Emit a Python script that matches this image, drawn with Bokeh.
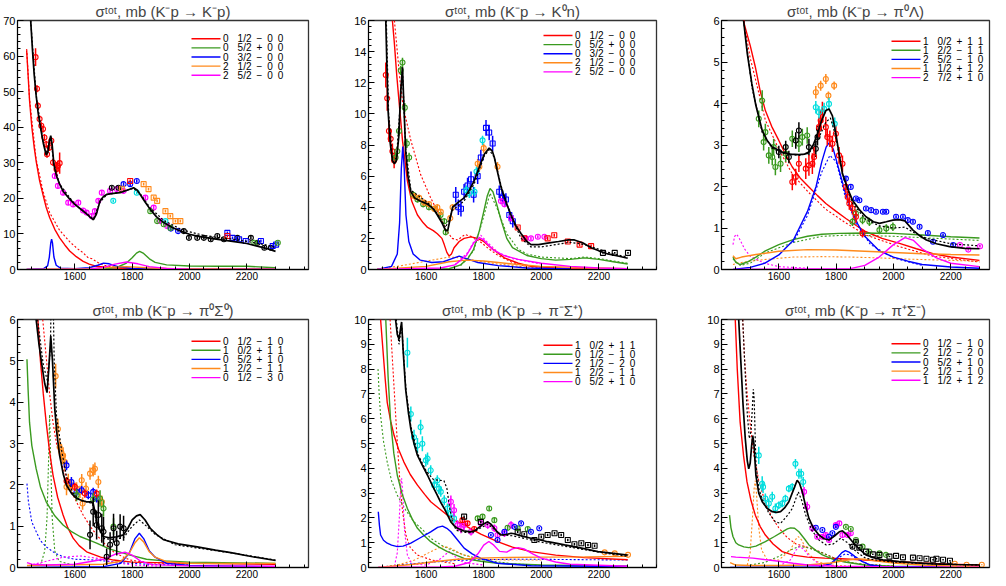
from bokeh.plotting import figure
from bokeh.layouts import gridplot
from bokeh.models import FixedTicker, Range1d, Label, BoxAnnotation
from bokeh.embed import file_html
from bokeh.resources import INLINE

FONT = "Liberation Sans"
COL = dict(red="#ff0000", green="#3a9a1f", blue="#0000ff", orange="#ff8a1c",
           magenta="#ff00ff", cyan="#00dede", black="#000000")

TITLES = ["σᵗᵒᵗ, mb (K⁻p → K⁻p)", "σᵗᵒᵗ, mb (K⁻p → K⁰n)", "σᵗᵒᵗ, mb (K⁻p → π⁰Λ)",
          "σᵗᵒᵗ, mb (K⁻p → π⁰Σ⁰)", "σᵗᵒᵗ, mb (K⁻p → π⁻Σ⁺)", "σᵗᵒᵗ, mb (K⁻p → π⁺Σ⁻)"]
X_TICKS = [1600, 1800, 2000, 2200]
Y_MAX = [70, 16, 6, 6, 10, 10]
Y_STEP = [10, 2, 1, 1, 1, 1]

P1_LABELS = ["0 1/2 − 0 0", "0 5/2 + 0 0", "0 3/2 − 0 0", "2 1/2 − 0 0", "2 5/2 − 0 0"]
P2_LABELS = ["0 1/2 − 0 0", "0 5/2 + 0 0", "0 3/2 − 0 0", "2 1/2 − 0 0", "2 5/2 − 0 0"]
P3_LABELS = ["1 0/2 + 1 1", "1 2/2 − 1 1", "2 5/2 − 1 0", "1 1/2 + 1 2", "2 7/2 + 1 0"]
P4_LABELS = ["0 1/2 − 1 0", "1 0/2 + 1 1", "0 5/2 + 1 0", "1 2/2 − 1 1", "0 1/2 − 3 0"]
P5_LABELS = ["1 0/2 + 1 1", "0 1/2 − 1 0", "2 1/2 − 2 0", "1 2/2 − 1 1", "0 5/2 + 1 0"]
P6_LABELS = ["0 1/2 − 1 0", "2 1/2 − 2 0", "0 5/2 + 1 0", "2 1/2 − 1 0", "1 1/2 + 1 2"]

# ---------------- Panel 1: K-p -> K-p ----------------
P1_TOTAL = [(1446,70),(1452,62),(1458,55),(1465,49),(1472,44),(1480,40),(1490,35.5),(1500,32.2),(1506,33),(1511,36),(1516,37.6),(1521,35),(1527,29.5),(1536,26.3),(1547,24),(1559,22),(1580,20),(1600,18.3),(1620,17),(1640,15.7),(1655,14.6),(1665,14.0),(1675,15.5),(1688,19.3),(1700,20.5),(1711,21.1),(1735,21.4),(1758,21.6),(1780,22.2),(1805,23.0),(1818,22.3),(1828,21.1),(1845,19),(1863,16.9),(1885,14.8),(1910,13.2),(1940,11.8),(1968,10.8),(2000,9.9),(2027,9.4),(2080,8.7),(2144,8.0),(2200,7.3),(2261,6.1),(2300,5.1)]
P1_TOTAL_D = [(1446,70),(1465,49),(1490,35.5),(1500,32.5),(1516,37),(1527,29.5),(1547,24),(1600,18.3),(1640,15.8),(1665,14.2),(1688,19),(1711,21),(1758,21.8),(1805,22.8),(1828,21.3),(1863,17.3),(1910,13.8),(1968,11.4),(2000,10.6),(2050,9.6),(2100,9.0),(2144,8.6),(2200,7.9),(2261,7.0),(2300,6.2)]
P1_RED = [(1432,61.5),(1436,56),(1442,47.5),(1450,40),(1458,34.5),(1465,30.5),(1477,25),(1489,21),(1500,17.5),(1512,14.6),(1530,11.3),(1547,8.9),(1565,6.9),(1582,5.2),(1605,3.6),(1629,2.3),(1650,1.5),(1676,0.9),(1720,0.5),(1800,0.3),(2000,0.2),(2300,0.1)]
P1_RED_D = [(1432,62),(1442,48),(1465,31),(1489,22),(1512,16),(1547,11),(1559,9.9),(1582,7.8),(1610,5.8),(1629,4.7),(1645,3.4),(1660,3.0),(1680,2.0),(1700,1.2),(1750,0.5),(1800,0.3)]
P1_GREEN = [(1432,0),(1700,0.1),(1750,0.7),(1780,1.8),(1800,3.3),(1815,4.6),(1826,5.1),(1840,4.5),(1860,3.0),(1880,2.0),(1920,1.3),(2000,1.0),(2100,0.9),(2200,0.9),(2300,0.5)]
P1_BLUE = [(1432,0),(1490,0.2),(1505,1),(1511,3.5),(1516,7.5),(1519,8.5),(1522,7.5),(1527,3.5),(1535,1.2),(1550,0.4),(1600,0.2),(1650,0.5),(1680,1.2),(1700,1.8),(1720,1.6),(1750,0.8),(1800,0.3),(1900,0.1),(2300,0.05)]
P1_ORANGE = [(1432,0),(1650,0.2),(1720,0.6),(1780,0.8),(1850,0.5),(1950,0.2),(2300,0.05)]
P1_MAGENTA = [(1432,0),(1650,0.1),(1700,0.6),(1740,1.5),(1780,2.1),(1820,1.6),(1860,0.8),(1920,0.3),(2000,0.1),(2300,0.02)]
P1_RED_PTS = [(1463,59.7,2.5),(1468,50.8,1),(1471,46,1),(1477,42.3,1),(1483,40.4,1),(1489,39.5,1),(1494,37.1,1),(1500,35.2,1),(1503,32.4,1),(1512,34.3,1),(1518,36.2,1),(1524,30.1,1),(1536,28.2,2),(1541,29.1,1.5),(1547,29.9,3)]
P1_MAGENTA_PTS = [(1530,26.3,0.7),(1541,23.5,0.7),(1559,21.6,0.7),(1577,18.8,0.7),(1594,18.3,0.7),(1612,18.8,0.7),(1629,16.6,0.7),(1641,16,0.7),(1659,15,0.7),(1670,16.4,0.7),(1682,19.3,0.7),(1694,21.6,0.7),(1723,22.1,0.7),(1746,22.6,0.7),(1770,22.1,0.7),(1846,20.2,0.7),(1875,17.4,0.7),(1898,13.6,0.7),(1922,12.2,0.7)]
P1_BLACK_PTS = [(1729,23,0.5),(1752,23,0.5),(1980,10.8,0.5),(1998,8.9,0.5),(2027,8.9,0.5),(2050,8.9,0.5),(2074,8.5,0.5),(2097,9.4,0.5),(2120,8.5,0.5),(2167,8.9,0.5),(2214,8.9,0.5),(2237,7.5,0.5),(2261,6.1,0.5),(2284,6.1,0.5)]
P1_BLUE_PTS = [(1770,24,0.5),(1793,24,0.5),(1816,24.9,0.5),(1935,11.5,0.4),(1960,10.8,0.4)]
P1_BLUE_SQ = [(2132,10.3,0.4),(2150,8.9,0.4),(2173,8.5,0.4),(2196,8.0,0.4),(2249,8.0,0.4),(2290,6.6,0.4),(2302,7.0,0.4)]
P1_ORANGE_SQ = [(1764,22.7,0.4),(1840,24,0.4),(1857,22.6,0.4),(1875,20.2,0.4),(1887,19.3,0.4),(1916,16.4,0.4),(1933,15,0.4),(1951,13.6,0.4),(1968,13.6,0.4)]
P1_GREEN_PTS = [(1863,16.4,0.4),(1887,13.6,0.4),(1910,12.7,0.4),(1933,11.7,0.4),(2226,7.5,0.4),(2308,7.5,0.4)]
P1_RED_SQ = [(1793,24.9,0.4),(2132,9.4,0.4)]
P1_CYAN_PTS = [(1734,19.3,0.4),(1816,21.6,0.4),(1916,13.6,0.4)]

# ---------------- Panel 2: K-p -> K0 n ----------------
P2_TOTAL = [(1460,16),(1464,13),(1468,10.2),(1475,8.2),(1483,7.0),(1490,6.8),(1497,7.0),(1505,8.5),(1512,11.5),(1518,13.0),(1522,11),(1529,7.6),(1537,6.0),(1547,5.0),(1560,4.6),(1580,4.4),(1605,4.2),(1625,3.9),(1639,3.5),(1655,3.0),(1668,2.5),(1675,2.5),(1684,3.3),(1692,4.0),(1710,4.3),(1732,4.6),(1750,5.1),(1767,5.7),(1785,6.6),(1802,7.4),(1819,7.8),(1830,7.6),(1837,7.2),(1850,6.1),(1860,5.3),(1878,4.3),(1895,3.5),(1912,2.8),(1930,2.3),(1950,1.8),(1964,1.6),(1990,1.6),(2022,1.7),(2060,1.8),(2095,1.9),(2115,1.9),(2145,1.7),(2173,1.4),(2200,1.2),(2231,1.0),(2270,0.85),(2300,0.72)]
P2_TOTAL_D = [(1462,16),(1470,10),(1483,7.2),(1497,7.1),(1518,12.8),(1529,7.8),(1547,5.1),(1605,4.3),(1639,3.6),(1668,2.7),(1692,3.8),(1732,4.4),(1767,5.5),(1802,7.3),(1819,7.7),(1837,7.2),(1860,5.4),(1895,3.4),(1930,2.0),(1964,1.45),(2000,1.45),(2050,1.6),(2100,1.75),(2150,1.6),(2200,1.3),(2250,1.0),(2300,0.8)]
P2_RED = [(1483,16),(1490,14.5),(1498,12.5),(1506,10.8),(1518,8.3),(1535,5.7),(1550,4.4),(1570,3.5),(1590,3.0),(1605,2.7),(1625,2.5),(1639,2.3),(1655,2.0),(1663,1.6),(1672,1.1),(1680,0.86),(1688,1.0),(1697,1.4),(1715,1.8),(1732,2.0),(1756,2.1),(1779,2.0),(1800,1.8),(1825,1.4),(1850,1.05),(1872,0.75),(1920,0.4),(1964,0.2),(2100,0.05),(2300,0.02)]
P2_RED_D = [(1490,16),(1500,14),(1510,12),(1520,10.5),(1547,8.3),(1581,6.1),(1616,4.6),(1651,3.3),(1668,2.6),(1690,2.0),(1710,1.9),(1735,2.25),(1760,2.1),(1790,1.75),(1820,1.3),(1850,0.9),(1900,0.45),(1950,0.2)]
P2_GREEN = [(1430,0),(1680,0.05),(1720,0.3),(1745,0.7),(1765,1.3),(1785,2.5),(1800,3.7),(1812,4.7),(1822,5.2),(1832,5.0),(1845,4.2),(1860,3.2),(1880,2.0),(1900,1.4),(1950,0.9),(2000,0.7),(2050,0.6),(2100,0.65),(2150,0.75),(2200,0.65),(2250,0.5),(2300,0.35)]
P2_GREEN_D = [(1720,0.25),(1765,1.2),(1800,3.4),(1822,4.9),(1845,4.0),(1880,2.3),(1920,1.3),(1950,1.0),(2000,0.8),(2100,0.7),(2150,0.8),(2200,0.7),(2300,0.4)]
P2_BLUE = [(1430,0),(1480,0.2),(1500,1.0),(1508,3),(1514,6.5),(1519,7.9),(1524,6.5),(1530,3.5),(1540,1.8),(1555,1.0),(1580,0.6),(1620,0.45),(1660,0.5),(1690,0.7),(1715,0.86),(1740,0.7),(1780,0.45),(1850,0.25),(1950,0.1),(2100,0.03)]
P2_ORANGE = [(1430,0),(1600,0.2),(1680,0.5),(1740,0.6),(1800,0.55),(1900,0.35),(2000,0.2),(2300,0.05)]
P2_ORANGE_D = [(1430,0.05),(1500,0.2),(1560,0.4),(1620,0.6),(1680,0.8),(1720,0.75),(1780,0.55),(1850,0.35),(1950,0.15),(2100,0.05)]
P2_MAGENTA = [(1430,0),(1650,0.1),(1700,0.3),(1740,0.9),(1765,1.7),(1785,2.05),(1800,1.9),(1830,1.3),(1870,0.9),(1920,0.65),(2000,0.4),(2100,0.2),(2200,0.1),(2300,0.05)]
P2_MAGENTA_D = [(1700,0.3),(1745,1.1),(1775,2.1),(1790,2.2),(1810,1.8),(1850,1.1),(1900,0.7),(2000,0.35)]
P2_RED_PTS = [(1460,12.5,0.8),(1465,11,0.8),(1471,8.9,0.7),(1477,8.4,0.6),(1483,7.6,0.5),(1489,7.0,0.5)]
P2_GREEN_PTS = [(1494,7.2,0.3),(1500,7.6,0.3),(1506,8.9,0.3),(1512,12.8,0.3),(1518,13.3,0.3),(1526,10.4,0.3),(1533,8.1,0.3),(1541,7.2,0.3),(1555,4.8,0.2),(1570,4.5,0.2),(1590,4.2,0.2),(1610,4.0,0.2),(1630,3.9,0.2),(1650,3.5,0.2),(1663,3.1,0.2),(1668,2.4,0.2)]
P2_ORANGE_PTS = [(1560,4.7,0.2),(1576,4.6,0.2),(1593,4.3,0.2),(1610,4.2,0.2),(1628,3.9,0.2),(1639,4.0,0.2),(1651,3.7,0.2),(1684,3.3,0.2),(1692,4.0,0.2),(1779,6.8,0.3),(1785,6.6,0.3),(1800,7.8,0.3),(1848,6.6,0.3),(1866,4.6,0.3)]
P2_BLUE_SQ = [(1703,4.8,0.5),(1712,4.0,0.5),(1721,3.9,0.5),(1732,5.0,0.5),(1744,5.4,0.5),(1756,5.8,0.5),(1765,4.8,0.5),(1779,6.0,0.5),(1790,7.2,0.5),(1808,9.1,0.5),(1819,8.8,0.5),(1831,8.1,0.5),(1854,5.0,0.4),(1866,4.6,0.4),(1877,4.5,0.4),(1889,3.5,0.4),(1901,3.1,0.4)]
P2_CYAN_PTS = [(1740,5.1,0.3),(1750,4.9,0.3),(1768,5.0,0.3),(1775,6.3,0.3),(1796,8.3,0.3)]
P2_MAGENTA_PTS = [(1860,4.4,0.2),(1872,4.2,0.2),(1895,3.3,0.2),(1945,2.0,0.1),(1964,2.0,0.1),(1988,2.1,0.1),(2011,2.1,0.1)]
P2_RED_SQ = [(1918,2.7,0.1),(1941,2.0,0.1),(2022,2.0,0.1),(2045,2.2,0.1),(2092,1.8,0.1),(2133,1.6,0.1),(2173,1.5,0.1)]
P2_BLACK_SQ = [(2214,1.07,0.05),(2255,1.07,0.05),(2301,1.07,0.05)]

# ---------------- Panel 3: K-p -> pi0 Lambda ----------------
P3_TOTAL = [(1477,6),(1490,5.2),(1506,4.47),(1520,3.95),(1542,3.35),(1560,3.1),(1577,2.95),(1612,2.83),(1640,2.78),(1670,2.77),(1690,2.78),(1705,2.83),(1720,3.0),(1735,3.27),(1750,3.6),(1764,3.83),(1775,3.87),(1787,3.7),(1799,3.27),(1810,2.8),(1822,2.31),(1840,1.95),(1857,1.67),(1880,1.45),(1904,1.27),(1930,1.15),(1951,1.11),(1975,1.15),(1998,1.19),(2020,1.2),(2040,1.17),(2068,0.95),(2090,0.82),(2115,0.71),(2150,0.62),(2196,0.55),(2250,0.51),(2300,0.5)]
P3_TOTAL_D = [(1477,6),(1506,4.4),(1542,3.3),(1577,2.92),(1612,2.8),(1670,2.75),(1705,2.8),(1735,3.1),(1764,3.55),(1780,3.65),(1799,3.2),(1822,2.3),(1857,1.6),(1904,1.2),(1951,1.05),(2000,1.0),(2040,1.02),(2068,0.9),(2115,0.75),(2200,0.62),(2300,0.57)]
P3_RED = [(1470,6.5),(1480,5.9),(1500,5.4),(1518,4.88),(1535,4.3),(1553,3.83),(1575,3.45),(1600,3.11),(1625,2.75),(1647,2.47),(1675,2.2),(1705,1.99),(1735,1.78),(1764,1.59),(1800,1.4),(1834,1.23),(1870,1.06),(1904,0.91),(1960,0.75),(2021,0.63),(2080,0.5),(2138,0.38),(2200,0.3),(2300,0.22)]
P3_RED_D = [(1470,6.3),(1500,5.1),(1518,4.6),(1553,3.6),(1600,2.9),(1647,2.3),(1705,1.85),(1764,1.45),(1834,1.12),(1904,0.83),(2021,0.55),(2138,0.32),(2300,0.18)]
P3_GREEN = [(1440,0.3),(1450,0.17),(1465,0.12),(1490,0.18),(1520,0.3),(1553,0.45),(1600,0.6),(1650,0.72),(1700,0.8),(1750,0.85),(1810,0.87),(1900,0.88),(2000,0.87),(2100,0.83),(2200,0.79),(2300,0.76)]
P3_GREEN_D = [(1440,0.25),(1465,0.1),(1500,0.15),(1553,0.4),(1650,0.65),(1750,0.8),(1850,0.83),(2000,0.8),(2150,0.75),(2300,0.7)]
P3_BLUE = [(1440,0),(1500,0.05),(1550,0.15),(1600,0.35),(1650,0.7),(1700,1.4),(1730,2.0),(1750,2.6),(1765,2.95),(1775,3.05),(1790,2.9),(1810,2.4),(1830,1.9),(1850,1.5),(1875,1.1),(1900,0.8),(1950,0.45),(2000,0.3),(2050,0.2),(2100,0.12),(2200,0.06),(2300,0.03)]
P3_BLUE_D = [(1650,0.65),(1700,1.3),(1750,2.35),(1778,2.75),(1800,2.6),(1830,1.8),(1870,1.1),(1920,0.6),(2000,0.28),(2100,0.1)]
P3_ORANGE = [(1440,0.33),(1450,0.26),(1470,0.3),(1520,0.36),(1600,0.44),(1700,0.48),(1800,0.47),(1900,0.44),(2000,0.41),(2100,0.38),(2200,0.36),(2300,0.35)]
P3_ORANGE_D = [(1440,0.12),(1470,0.17),(1550,0.24),(1650,0.3),(1750,0.31),(1850,0.3),(1950,0.28),(2050,0.25),(2150,0.23),(2300,0.2)]
P3_MAGENTA = [(1440,0),(1850,0.02),(1900,0.1),(1950,0.3),(2000,0.6),(2040,0.77),(2070,0.7),(2100,0.5),(2150,0.28),(2200,0.15),(2300,0.07)]
P3_MAGENTA_D = [(1440,0.6),(1446,0.8),(1452,0.85),(1460,0.78),(1480,0.5),(1500,0.32),(1550,0.15),(1600,0.07),(1700,0.03)]
P3_GREEN_PTS = [(1530,3.63,0.2),(1542,4.07,0.25),(1547,3.07,0.2),(1553,3.31,0.2),(1565,2.75,0.2),(1577,2.71,0.2),(1582,2.95,0.2),(1588,2.47,0.2),(1606,2.55,0.2),(1624,2.79,0.2),(1647,3.15,0.2),(1670,3.03,0.2),(1682,3.19,0.2),(1699,3.23,0.2),(1857,1.15,0.1),(1869,1.35,0.1),(1892,1.19,0.1),(1916,1.15,0.1),(1951,0.95,0.1),(1975,0.99,0.1),(1998,1.03,0.1)]
P3_BLACK_PTS = [(1600,2.83,0.15),(1624,2.95,0.15),(1635,2.71,0.15),(1659,3.11,0.2),(1670,3.35,0.2),(1705,2.95,0.2),(1729,2.91,0.2),(1735,3.19,0.2),(1740,3.39,0.2)]
P3_RED_PTS = [(1647,2.11,0.2),(1659,2.23,0.2),(1670,2.55,0.2),(1694,2.43,0.25),(1705,2.51,0.25),(1717,2.55,0.25),(1723,2.71,0.25),(1740,3.43,0.25),(1746,3.59,0.25),(1752,3.79,0.25),(1764,3.43,0.25),(1769,3.19,0.2),(1778,3.15,0.2),(1787,3.03,0.2),(1799,3.27,0.2),(1810,2.75,0.2),(1822,2.55,0.2),(1834,1.99,0.15),(1840,1.75,0.15),(1846,1.59,0.15),(1857,1.47,0.15),(1869,1.27,0.15),(1892,0.87,0.1)]
P3_ORANGE_PTS = [(1729,4.27,0.15),(1746,4.43,0.12),(1764,4.59,0.12),(1773,4.19,0.1),(1793,4.43,0.1)]
P3_CYAN_PTS = [(1729,3.91,0.15),(1740,3.79,0.15),(1758,3.87,0.15),(1775,3.99,0.15),(1795,3.51,0.15)]
P3_BLUE_PTS = [(1834,2.19,0.04),(1851,1.99,0.04),(1869,1.71,0.04),(1881,1.67,0.04),(1904,1.47,0.04),(1922,1.43,0.04),(1939,1.39,0.04),(1963,1.39,0.04),(1975,1.39,0.04),(2009,1.27,0.04),(2033,1.27,0.04),(2050,1.19,0.04),(2068,1.15,0.04),(2091,1.03,0.04),(2120,0.88,0.04),(2138,0.67,0.04),(2173,0.83,0.04),(2208,0.59,0.04)]
P3_MAGENTA_PTS = [(2232,0.59,0.03),(2261,0.48,0.03),(2302,0.56,0.03)]

# ---------------- Panel 4: K-p -> pi0 Sigma0 ----------------
P4_TOTAL = [(1465,6),(1475,5.4),(1485,4.9),(1495,4.45),(1503,4.23),(1509,4.8),(1516,5.6),(1522,5.0),(1530,3.83),(1538,3.2),(1547,2.71),(1560,2.25),(1571,1.99),(1590,1.78),(1606,1.67),(1625,1.62),(1641,1.59),(1655,1.59),(1664,1.55),(1670,1.35),(1676,1.11),(1688,0.9),(1699,0.75),(1720,0.72),(1745,0.74),(1770,0.79),(1785,0.95),(1800,1.15),(1815,1.25),(1828,1.28),(1845,1.15),(1863,0.95),(1885,0.8),(1910,0.67),(1960,0.57),(2027,0.5),(2090,0.42),(2144,0.36),(2220,0.26),(2300,0.17)]
P4_TOTAL_D = [(1470,6),(1490,4.9),(1505,4.5),(1515,5.3),(1518,7),(1522,7.5),(1528,5.0),(1536,3.67),(1553,2.87),(1571,2.2),(1594,1.8),(1620,1.62),(1650,1.58),(1664,1.5),(1676,1.05),(1699,0.7),(1735,0.68),(1770,0.72),(1800,1.0),(1825,1.15),(1850,1.0),(1880,0.8),(1950,0.55),(2050,0.45),(2150,0.35),(2300,0.18)]
P4_RED = [(1471,6),(1480,5.0),(1490,4.2),(1500,3.51),(1512,2.8),(1524,2.23),(1540,1.7),(1559,1.27),(1575,0.97),(1594,0.71),(1615,0.53),(1641,0.38),(1690,0.25),(1735,0.18),(1800,0.13),(2000,0.1),(2300,0.08)]
P4_RED_D = [(1488,6),(1500,5.1),(1512,4.2),(1524,3.5),(1536,3.0),(1559,2.4),(1577,2.05),(1594,1.75),(1612,1.5),(1629,1.27),(1653,1.0),(1676,0.79),(1700,0.6),(1735,0.38),(1770,0.25),(1793,0.18),(1850,0.12),(2000,0.08)]
P4_GREEN = [(1433,5.04),(1437,4.3),(1442,3.51),(1450,2.95),(1465,2.39),(1480,1.95),(1500,1.59),(1530,1.25),(1559,1.03),(1590,0.86),(1618,0.75),(1650,0.66),(1676,0.59),(1720,0.45),(1793,0.3),(1850,0.2),(1910,0.16),(2000,0.13),(2300,0.1)]
P4_GREEN_D = [(1480,0.05),(1495,0.4),(1503,1.2),(1508,2.5),(1512,3.7),(1516,2.5),(1521,1.2),(1530,0.4),(1545,0.15),(1600,0.05)]
P4_BLUE = [(1433,0),(1700,0.02),(1760,0.1),(1790,0.35),(1810,0.7),(1825,0.83),(1840,0.7),(1860,0.4),(1880,0.25),(1920,0.1),(2000,0.05),(2300,0.02)]
P4_BLUE_D = [(1433,2.03),(1438,1.6),(1442,1.43),(1450,1.1),(1465,0.87),(1480,0.65),(1500,0.5),(1530,0.35),(1559,0.26),(1600,0.2),(1676,0.18),(1750,0.12),(1850,0.08),(2000,0.05)]
P4_ORANGE = [(1433,0.05),(1700,0.08),(1760,0.15),(1790,0.35),(1810,0.6),(1825,0.72),(1840,0.62),(1860,0.38),(1880,0.25),(1920,0.14),(2000,0.1),(2300,0.1)]
P4_MAGENTA = [(1433,0.12),(1450,0.08),(1500,0.06),(1600,0.08),(1700,0.2),(1740,0.32),(1775,0.37),(1800,0.3),(1830,0.15),(1870,0.07),(2000,0.04),(2300,0.03)]
P4_MAGENTA_D = [(1440,0.05),(1500,0.15),(1560,0.25),(1620,0.28),(1680,0.22),(1740,0.12),(1800,0.06),(1900,0.03)]
P4_ORANGE_PTS = [(1533,4.63,0.3),(1541,3.35,0.25),(1547,2.91,0.2),(1553,2.79,0.2),(1559,2.71,0.2),(1565,2.55,0.2),(1571,1.95,0.2),(1577,2.07,0.2),(1588,1.99,0.15),(1606,1.91,0.15),(1618,1.83,0.15),(1624,2.11,0.15),(1627,1.55,0.15),(1639,1.91,0.15),(1653,2.27,0.15),(1664,2.35,0.15),(1670,2.39,0.15),(1682,2.07,0.15),(1694,1.59,0.15)]
P4_BLUE_PTS = [(1571,2.47,0.12),(1588,2.07,0.12),(1606,1.83,0.1),(1624,1.87,0.1),(1647,1.75,0.1),(1664,1.83,0.1),(1676,1.67,0.1)]
P4_RED_PTS = [(1571,2.09,0.1),(1600,1.95,0.1),(1635,1.79,0.1),(1676,1.79,0.1)]
P4_GREEN_PTS = [(1606,1.75,0.15),(1664,1.65,0.15),(1688,1.67,0.2),(1700,1.43,0.2),(1735,0.99,0.2)]
P4_BLACK_PTS = [(1653,0.79,0.35),(1664,1.35,0.35),(1676,1.03,0.35),(1682,1.27,0.35),(1694,0.95,0.35),(1700,0.87,0.35),(1711,0.26,0.2),(1723,0.55,0.3),(1735,0.95,0.35),(1746,0.59,0.3),(1758,0.99,0.3),(1770,0.95,0.3)]

# ---------------- Panel 5: K-p -> pi- Sigma+ ----------------
P5_TOTAL = [(1490,10.5),(1494,10),(1500,9.4),(1506,9.2),(1511,9.6),(1515,9.9),(1520,8.8),(1529,7.19),(1538,6.3),(1547,5.59),(1558,5.0),(1570,4.52),(1588,4.1),(1605,3.72),(1622,3.3),(1639,2.91),(1652,2.6),(1663,2.38),(1675,2.1),(1686,1.84),(1698,1.68),(1709,1.58),(1730,1.48),(1756,1.44),(1768,1.48),(1779,1.58),(1795,1.72),(1814,1.84),(1825,1.75),(1837,1.58),(1848,1.42),(1860,1.31),(1878,1.33),(1895,1.38),(1906,1.36),(1918,1.31),(1940,1.25),(1964,1.18),(2000,1.1),(2022,1.04),(2050,0.98),(2081,0.91),(2140,0.78),(2197,0.64),(2250,0.57),(2300,0.5)]
P5_TOTAL_D = [(1492,10.5),(1500,9.6),(1506,9.0),(1512,9.5),(1516,9.7),(1522,8.5),(1530,7.2),(1547,5.7),(1570,4.6),(1600,3.9),(1625,3.55),(1645,3.52),(1662,3.5),(1672,3.2),(1682,2.4),(1692,1.8),(1705,1.5),(1730,1.42),(1760,1.4),(1790,1.6),(1815,1.75),(1840,1.5),(1860,1.32),(1900,1.28),(1950,1.15),(2000,1.02),(2100,0.82),(2200,0.62),(2300,0.45)]
P5_RED = [(1442,10),(1450,8.8),(1458,7.6),(1465,6.66),(1477,5.9),(1489,5.32),(1505,4.75),(1523,4.25),(1545,3.75),(1570,3.32),(1595,2.95),(1616,2.65),(1645,2.38),(1674,2.11),(1700,1.9),(1732,1.71),(1790,1.35),(1848,1.04),(1900,0.82),(1964,0.64),(2050,0.5),(2150,0.4),(2300,0.31)]
P5_RED_D = [(1475,10),(1485,8),(1495,6),(1503,4.5),(1510,3.3),(1518,2.3),(1530,1.3),(1545,0.8),(1570,0.5),(1620,0.3),(1700,0.15)]
P5_GREEN = [(1460,10),(1468,7.7),(1477,5.86),(1488,4.6),(1500,3.72),(1517,2.95),(1535,2.38),(1552,1.95),(1570,1.58),(1592,1.3),(1616,1.04),(1645,0.82),(1674,0.64),(1732,0.37),(1790,0.25),(1848,0.17),(2000,0.1),(2300,0.05)]
P5_GREEN_D = [(1433,8.0),(1437,7.0),(1442,6.12),(1452,5.1),(1465,4.25),(1480,3.5),(1500,2.91),(1530,2.3),(1558,1.84),(1590,1.5),(1616,1.18),(1660,0.85),(1732,0.5),(1800,0.3),(1900,0.15),(2000,0.08)]
P5_BLUE = [(1434,2.25),(1438,1.7),(1442,1.31),(1452,1.1),(1465,0.98),(1480,0.9),(1500,0.84),(1520,0.86),(1547,0.98),(1580,1.2),(1616,1.44),(1640,1.62),(1657,1.67),(1672,1.58),(1686,1.44),(1710,1.1),(1732,0.78),(1760,0.55),(1790,0.37),(1848,0.17),(1964,0.07),(2300,0.04)]
P5_BLUE_D = [(1433,0),(1500,0.1),(1600,0.2),(1700,0.28),(1800,0.32),(1900,0.33),(2000,0.33),(2300,0.3)]
P5_ORANGE = [(1433,0),(1480,0.05),(1550,0.12),(1620,0.22),(1700,0.32),(1780,0.38),(1850,0.4),(2000,0.42),(2150,0.43),(2300,0.45)]
P5_ORANGE_D = [(1433,0),(1500,0.1),(1560,0.3),(1610,0.6),(1645,0.8),(1665,0.85),(1690,0.75),(1720,0.55),(1760,0.4),(1800,0.33),(1900,0.3),(2000,0.3)]
P5_MAGENTA = [(1433,0),(1650,0.02),(1700,0.05),(1750,0.2),(1780,0.55),(1800,0.9),(1818,1.05),(1835,0.9),(1855,0.65),(1880,0.62),(1900,0.75),(1920,0.8),(1940,0.75),(1970,0.55),(2000,0.38),(2050,0.22),(2100,0.13),(2300,0.05)]
P5_MAGENTA_D = [(1490,0.05),(1500,0.6),(1507,2.0),(1512,3.3),(1515,3.6),(1519,3.0),(1525,1.5),(1535,0.5),(1550,0.15),(1600,0.1),(1650,0.35),(1680,0.65),(1700,0.45),(1730,0.2),(1800,0.1)]
P5_CYAN_PTS = [(1535,8.66,0.6),(1547,6.19,0.3),(1558,5.25,0.3),(1570,4.92,0.3),(1581,5.66,0.3),(1587,4.99,0.3),(1599,4.32,0.25),(1605,4.39,0.25),(1616,3.92,0.2),(1628,3.32,0.2),(1639,3.52,0.2),(1645,3.18,0.2),(1651,3.05,0.2),(1663,2.71,0.2),(1674,2.38,0.2),(1686,2.18,0.2),(1697,1.98,0.2)]
P5_MAGENTA_PTS = [(1686,2.65,0.25),(1697,2.31,0.25),(1709,1.71,0.2),(1721,1.58,0.2),(1732,1.71,0.2),(1756,1.44,0.15),(1790,1.78,0.15),(1814,1.71,0.15),(1837,1.58,0.15),(1848,1.31,0.15),(1872,1.38,0.15),(1895,1.71,0.15)]
P5_RED_PTS = [(1726,1.91,0.1),(1744,1.78,0.1),(1767,1.55,0.1)]
P5_GREEN_PTS = [(1779,1.98,0.1),(1796,2.05,0.1),(1819,2.38,0.1),(1837,1.91,0.1),(1883,1.6,0.1),(1918,1.58,0.1),(1953,1.55,0.1)]
P5_BLUE_PTS = [(1825,1.31,0.05),(1848,1.11,0.05),(1872,1.44,0.05),(1907,1.64,0.05),(1930,1.78,0.05),(1964,1.44,0.05),(1993,1.58,0.05)]
P5_BLACK_SQ = [(1732,2.05,0.05),(1790,1.84,0.05),(1918,1.44,0.05),(1941,1.34,0.05),(1976,1.11,0.05),(2000,1.24,0.05),(2022,1.31,0.05),(2046,1.38,0.05),(2069,1.31,0.05),(2092,1.11,0.05),(2115,0.94,0.05),(2139,0.98,0.05),(2162,0.91,0.05),(2185,0.88,0.05)]
P5_ORANGE_PTS = [(2220,0.61,0.03),(2255,0.57,0.03),(2301,0.51,0.03)]

# ---------------- Panel 6: K-p -> pi+ Sigma- ----------------
P6_TOTAL = [(1460,10),(1468,8.2),(1475,6.6),(1483,5.19),(1490,4.3),(1495,3.98),(1500,4.2),(1505,4.9),(1509,5.32),(1513,5.0),(1520,3.72),(1530,3.0),(1542,2.65),(1560,2.38),(1577,2.25),(1592,2.22),(1606,2.25),(1620,2.4),(1635,2.65),(1650,3.1),(1664,3.52),(1672,3.4),(1682,3.05),(1693,2.5),(1705,1.98),(1720,1.6),(1740,1.31),(1758,1.16),(1775,1.11),(1795,1.28),(1811,1.44),(1822,1.48),(1835,1.35),(1857,1.04),(1880,0.75),(1904,0.51),(1930,0.4),(1963,0.31),(2021,0.24),(2080,0.19),(2138,0.15),(2220,0.12),(2300,0.1)]
P6_TOTAL_D = [(1474,10),(1482,8),(1490,6.2),(1497,5.2),(1503,5.5),(1508,6.5),(1511,7.19),(1514,6.8),(1520,4.2),(1530,3.2),(1542,2.75),(1565,2.2),(1588,1.84),(1606,1.78),(1630,2.1),(1647,2.38),(1668,3.05),(1680,2.7),(1694,2.11),(1715,1.5),(1740,1.11),(1765,0.91),(1790,0.95),(1816,1.18),(1840,1.0),(1857,0.78),(1880,0.55),(1904,0.37),(1950,0.28),(2000,0.22),(2100,0.16),(2300,0.1)]
P6_RED = [(1448,10),(1455,8),(1465,5.86),(1477,4.5),(1489,3.45),(1503,2.7),(1518,2.11),(1535,1.65),(1553,1.31),(1580,0.95),(1612,0.64),(1650,0.5),(1700,0.42),(1760,0.38),(1800,0.36),(1850,0.33),(1900,0.3),(2000,0.24),(2100,0.18),(2200,0.13),(2300,0.1)]
P6_RED_D = [(1474,10),(1480,8.5),(1488,7.2),(1500,5.8),(1512,4.6),(1530,3.5),(1553,2.6),(1577,2.0),(1600,1.6),(1630,1.2),(1660,0.95),(1690,0.85),(1720,0.75),(1760,0.55),(1800,0.35),(1850,0.2),(1900,0.12),(2000,0.06)]
P6_GREEN = [(1428,2.11),(1433,1.6),(1440,1.25),(1450,1.0),(1460,0.91),(1478,0.83),(1495,0.8),(1520,0.86),(1553,1.04),(1585,1.25),(1612,1.44),(1630,1.56),(1641,1.6),(1655,1.58),(1670,1.44),(1690,1.15),(1705,0.91),(1730,0.68),(1752,0.51),(1790,0.33),(1830,0.22),(1900,0.1),(2000,0.05),(2300,0.02)]
P6_GREEN_D = [(1500,0.1),(1550,0.2),(1600,0.45),(1640,0.7),(1670,0.85),(1700,0.8),(1750,0.6),(1800,0.35),(1850,0.2),(1900,0.12),(2000,0.05)]
P6_BLUE = [(1430,0),(1740,0.02),(1780,0.15),(1805,0.4),(1820,0.6),(1832,0.68),(1845,0.62),(1865,0.45),(1890,0.25),(1920,0.1),(1960,0.04),(2300,0.01)]
P6_BLUE_D = [(1780,0.12),(1810,0.4),(1832,0.55),(1850,0.5),(1880,0.3),(1920,0.1)]
P6_ORANGE = [(1430,0.2),(1450,0.1),(1500,0.08),(1600,0.08),(1700,0.1),(1780,0.18),(1830,0.28),(1870,0.35),(1900,0.33),(1950,0.25),(2000,0.18),(2100,0.1),(2200,0.06),(2300,0.04)]
P6_ORANGE_D = [(1490,0.1),(1500,0.6),(1508,2.0),(1514,3.2),(1518,3.5),(1522,3.0),(1530,1.6),(1540,0.7),(1560,0.3),(1600,0.3),(1640,0.7),(1660,1.15),(1668,1.25),(1680,1.1),(1700,0.6),(1730,0.25),(1780,0.1),(1850,0.05)]
P6_MAGENTA = [(1433,0.44),(1450,0.42),(1480,0.4),(1510,0.38),(1550,0.32),(1600,0.25),(1650,0.17),(1700,0.1),(1800,0.05),(2000,0.02),(2300,0.01)]
P6_MAGENTA_D = [(1600,0.05),(1640,0.3),(1660,0.7),(1672,0.85),(1685,0.75),(1710,0.4),(1740,0.15),(1800,0.05)]
P6_CYAN_PTS = [(1530,4.52,0.35),(1542,3.38,0.3),(1545,3.25,0.25),(1553,2.78,0.2),(1565,2.58,0.2),(1577,2.85,0.2),(1588,2.38,0.2),(1600,2.51,0.15),(1612,2.58,0.15),(1623,2.78,0.15),(1635,3.18,0.15),(1647,3.25,0.15),(1658,4.18,0.2),(1670,3.78,0.2),(1678,3.78,0.2),(1685,3.45,0.2)]
P6_MAGENTA_PTS = [(1688,3.05,0.2),(1699,2.45,0.2),(1717,1.58,0.15),(1734,1.24,0.1),(1752,1.24,0.1),(1764,1.31,0.1),(1775,1.11,0.1),(1799,1.71,0.1),(1811,1.78,0.1),(1822,1.31,0.1),(1840,1.31,0.1),(1851,1.38,0.1)]
P6_BLUE_PTS = [(1729,1.6,0.05),(1752,1.51,0.05),(1775,1.24,0.05),(1787,1.38,0.05),(1799,1.64,0.05)]
P6_GREEN_PTS = [(1834,1.64,0.05),(1851,1.55,0.05),(1869,1.11,0.05),(1892,0.84,0.05),(1916,0.64,0.05),(1951,0.57,0.05),(1974,0.51,0.05)]
P6_BLACK_SQ = [(1881,0.8,0.03),(1904,0.64,0.03),(1928,0.53,0.03),(1951,0.51,0.03),(1986,0.44,0.03),(2009,0.47,0.03),(2033,0.41,0.03),(2068,0.4,0.03),(2091,0.37,0.03),(2115,0.35,0.03),(2138,0.31,0.03),(2150,0.35,0.03),(2173,0.31,0.03),(2197,0.27,0.03)]
P6_BLACK_PTS = [(1857,0.84,0.05),(1869,1.04,0.05)]
P6_ORANGE_PTS = [(2214,0.15,0.02),(2255,0.11,0.02),(2308,0.11,0.02)]

# ---------------- assemble panels ----------------
LEG_COLORS = ["red", "green", "blue", "orange", "magenta"]
PANELS = [
    dict(labels=P1_LABELS,
         comps=[P1_RED, P1_GREEN, P1_BLUE, P1_ORANGE, P1_MAGENTA],
         dotted=[(P1_RED_D, "red")],
         totals=(P1_TOTAL, P1_TOTAL_D),
         points=[(P1_RED_PTS, "red", "circle"), (P1_MAGENTA_PTS, "magenta", "circle"), (P1_BLACK_PTS, "black", "circle"),
                 (P1_BLUE_PTS, "blue", "circle"), (P1_BLUE_SQ, "blue", "square"), (P1_ORANGE_SQ, "orange", "square"),
                 (P1_GREEN_PTS, "green", "circle"), (P1_RED_SQ, "red", "square"), (P1_CYAN_PTS, "cyan", "circle")]),
    dict(labels=P2_LABELS,
         comps=[P2_RED, P2_GREEN, P2_BLUE, P2_ORANGE, P2_MAGENTA],
         dotted=[(P2_RED_D, "red"), (P2_GREEN_D, "green"), (P2_ORANGE_D, "orange"), (P2_MAGENTA_D, "magenta")],
         totals=(P2_TOTAL, P2_TOTAL_D),
         points=[(P2_RED_PTS, "red", "circle"), (P2_GREEN_PTS, "green", "circle"), (P2_ORANGE_PTS, "orange", "circle"),
                 (P2_BLUE_SQ, "blue", "square"), (P2_CYAN_PTS, "cyan", "circle"), (P2_MAGENTA_PTS, "magenta", "circle"),
                 (P2_RED_SQ, "red", "square"), (P2_BLACK_SQ, "black", "square")]),
    dict(labels=P3_LABELS,
         comps=[P3_RED, P3_GREEN, P3_BLUE, P3_ORANGE, P3_MAGENTA],
         dotted=[(P3_RED_D, "red"), (P3_GREEN_D, "green"), (P3_BLUE_D, "blue"), (P3_ORANGE_D, "orange"), (P3_MAGENTA_D, "magenta")],
         totals=(P3_TOTAL, P3_TOTAL_D),
         points=[(P3_GREEN_PTS, "green", "circle"), (P3_BLACK_PTS, "black", "circle"), (P3_RED_PTS, "red", "circle"),
                 (P3_ORANGE_PTS, "orange", "circle"), (P3_CYAN_PTS, "cyan", "circle"), (P3_BLUE_PTS, "blue", "circle"),
                 (P3_MAGENTA_PTS, "magenta", "circle")]),
    dict(labels=P4_LABELS,
         comps=[P4_RED, P4_GREEN, P4_BLUE, P4_ORANGE, P4_MAGENTA],
         dotted=[(P4_RED_D, "red"), (P4_GREEN_D, "green"), (P4_BLUE_D, "blue"), (P4_MAGENTA_D, "magenta")],
         totals=(P4_TOTAL, P4_TOTAL_D),
         points=[(P4_ORANGE_PTS, "orange", "circle"), (P4_BLUE_PTS, "blue", "circle"), (P4_RED_PTS, "red", "circle"),
                 (P4_GREEN_PTS, "green", "circle"), (P4_BLACK_PTS, "black", "circle")]),
    dict(labels=P5_LABELS,
         comps=[P5_RED, P5_GREEN, P5_BLUE, P5_ORANGE, P5_MAGENTA],
         dotted=[(P5_RED_D, "red"), (P5_GREEN_D, "green"), (P5_BLUE_D, "blue"), (P5_ORANGE_D, "orange"), (P5_MAGENTA_D, "magenta")],
         totals=(P5_TOTAL, P5_TOTAL_D),
         points=[(P5_CYAN_PTS, "cyan", "circle"), (P5_MAGENTA_PTS, "magenta", "circle"), (P5_RED_PTS, "red", "circle"),
                 (P5_GREEN_PTS, "green", "circle"), (P5_BLUE_PTS, "blue", "circle"), (P5_BLACK_SQ, "black", "square"),
                 (P5_ORANGE_PTS, "orange", "circle")]),
    dict(labels=P6_LABELS,
         comps=[P6_RED, P6_GREEN, P6_BLUE, P6_ORANGE, P6_MAGENTA],
         dotted=[(P6_RED_D, "red"), (P6_GREEN_D, "green"), (P6_BLUE_D, "blue"), (P6_ORANGE_D, "orange"), (P6_MAGENTA_D, "magenta")],
         totals=(P6_TOTAL, P6_TOTAL_D),
         points=[(P6_CYAN_PTS, "cyan", "circle"), (P6_MAGENTA_PTS, "magenta", "circle"), (P6_BLUE_PTS, "blue", "circle"),
                 (P6_GREEN_PTS, "green", "circle"), (P6_BLACK_SQ, "black", "square"), (P6_BLACK_PTS, "black", "circle"),
                 (P6_ORANGE_PTS, "orange", "circle")]),
]

# layout per column: (frame_width, border_left, border_right, x_end)
COLS = [(291, 13, 35, 2415), (288, 25, 45, 2400), (268, 20, 3, 2335)]
# layout per row: (frame_height, border_top, border_bottom)
ROWS = [(249, 11, 30), (248, 18, 14)]
LEG_TOP = [18.3, 15.0, 20.7, 21.7, 25.7, 24.3]   # first legend row centre below frame top (px)
LEG_LEFT = [174, 175, 170, 174, 175, 170]        # legend line start from frame left (px)
LEG_ROW = 9.1
LEG_LINE = 29


def fmt_label(s):
    a, b, c, d, e = s.split()
    return a + "\u2002\u2009\u2009" + b + "\u2002" + c + "\u2002" + d + "\u2002" + e


def xs_ys(pts):
    return [q[0] for q in pts], [q[1] for q in pts]


figs = []
for i, spec in enumerate(PANELS):
    r, c = divmod(i, 3)
    fw, bl, br, xend = COLS[c]
    fh, bt, bb = ROWS[r]
    p = figure(frame_width=fw, frame_height=fh, x_range=Range1d(1400, xend), y_range=Range1d(0, Y_MAX[i]),
               output_backend="svg", toolbar_location=None, title=TITLES[i],
               min_border_left=bl, min_border_right=br, min_border_top=bt, min_border_bottom=bb)
    p.title.text_font = FONT
    p.title.text_font_size = "15px"
    p.title.text_font_style = "normal"
    p.title.align = "center"
    p.title.standoff = 1
    p.grid.visible = False
    p.outline_line_color = "#333333"
    p.outline_line_width = 1.3
    p.background_fill_color = "white"
    p.border_fill_color = "white"

    ymax, ystep = Y_MAX[i], Y_STEP[i]
    nmaj = int(round(ymax / ystep))
    p.xaxis.ticker = FixedTicker(ticks=X_TICKS, minor_ticks=list(range(1400, 2450, 50)))
    p.yaxis.ticker = FixedTicker(ticks=[k * ystep for k in range(nmaj + 1)],
                                 minor_ticks=[k * ystep / 5 for k in range(nmaj * 5 + 1)])
    for ax in (p.xaxis[0], p.yaxis[0]):
        ax.major_tick_in = 6
        ax.major_tick_out = 0
        ax.minor_tick_in = 3
        ax.minor_tick_out = 0
        ax.major_label_standoff = 2
        ax.major_label_text_font = FONT
        ax.major_label_text_color = "black"
        ax.axis_line_color = "black"
    p.xaxis.major_label_text_font_size = "10px"
    p.yaxis.major_label_text_font_size = "11px"

    for pts, col in spec["dotted"]:
        x, y = xs_ys(pts)
        p.line(x, y, line_color=COL[col], line_width=1.1, line_dash="2 2")
    for pts, col in zip(spec["comps"], LEG_COLORS):
        x, y = xs_ys(pts)
        p.line(x, y, line_color=COL[col], line_width=1.4)
    for pts, col, mk in spec["points"]:
        x = [q[0] for q in pts]
        y = [q[1] for q in pts]
        e = [q[2] for q in pts]
        p.segment(x0=x, y0=[a - b for a, b in zip(y, e)], x1=x, y1=[a + b for a, b in zip(y, e)],
                  line_color=COL[col], line_width=1.5)
        p.scatter(x, y, marker=mk, size=5, fill_color=None, line_color=COL[col], line_width=1.1)
    tot, totd = spec["totals"]
    x, y = xs_ys(totd)
    p.line(x, y, line_color="black", line_width=1.2, line_dash="2 2")
    x, y = xs_ys(tot)
    p.line(x, y, line_color="black", line_width=1.7)

    # compact legend (screen units, relative to the frame)
    for k, (lab, col) in enumerate(zip(spec["labels"], LEG_COLORS)):
        yc = fh - LEG_TOP[i] - k * LEG_ROW
        lx = LEG_LEFT[i]
        p.add_layout(BoxAnnotation(left=lx, right=lx + LEG_LINE, bottom=yc - 0.7, top=yc + 0.7,
                                   left_units="screen", right_units="screen",
                                   bottom_units="screen", top_units="screen",
                                   fill_color=COL[col], fill_alpha=1.0, line_alpha=0, level="overlay"))
        p.add_layout(Label(x=lx + LEG_LINE + 2.5, y=yc, x_units="screen", y_units="screen", text=fmt_label(lab),
                           text_font=FONT, text_font_size="10px", text_baseline="middle",
                           text_align="left", text_color="black", level="overlay"))
    figs.append(p)

grid = gridplot([figs[0:3], figs[3:6]], toolbar_location=None)
open("out.html", "w").write(file_html(grid, INLINE))
